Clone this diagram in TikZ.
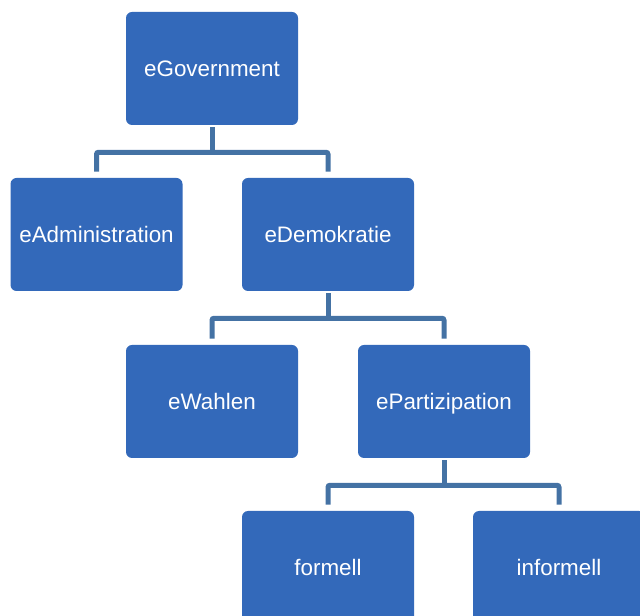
\documentclass[tikz,border=0pt]{standalone}
\usepackage{fontspec}
\setmainfont{Liberation Sans}
\definecolor{boxblue}{HTML}{3369BA}
\definecolor{linkblue}{HTML}{4472A4}

\begin{document}
\begin{tikzpicture}[x=0.75pt,y=-0.75pt,
    box/.style={fill=boxblue, rounded corners=4.5pt, text=white, inner sep=0pt,
        minimum width=129pt, minimum height=84.75pt, text height=12.5pt, text depth=0.5pt,
        font=\fontsize{16.8}{20}\selectfont},
    link/.style={draw=linkblue, line width=3.75pt, rounded corners=1.5pt}]
                \useasboundingbox (0,0) rectangle (640,616);
                \clip (0,0) rectangle (640,616);
                \node [box] (gov) at (212,68.5) {eGovernment};
                \node [box] (adm) at (96.5,234.5) {eAdministration};
                \node [box] (dem) at (328,234.5) {eDemokratie};
                \node [box] (wah) at (212,401.5) {eWahlen};
                \node [box] (par) at (444,401.5) {ePartizipation};
                \node [box] (for) at (328,567.5) {formell};
                \node [box] (inf) at (559,567.5) {informell};
                \draw [link] ([yshift=-1.5pt]gov.south) -- ++(0,25) coordinate (gj);
                \draw [link] ([yshift=4.5pt]adm.north) |- (gj) -| ([yshift=4.5pt]dem.north);
                \draw [link] ([yshift=-1.5pt]dem.south) -- ++(0,25) coordinate (dj);
                \draw [link] ([yshift=4.5pt]wah.north) |- (dj) -| ([yshift=4.5pt]par.north);
                \draw [link] ([yshift=-1.5pt]par.south) -- ++(0,25) coordinate (pj);
                \draw [link] ([yshift=4.5pt]for.north) |- (pj) -| ([yshift=4.5pt]inf.north);
            \end{tikzpicture}
\end{document}
